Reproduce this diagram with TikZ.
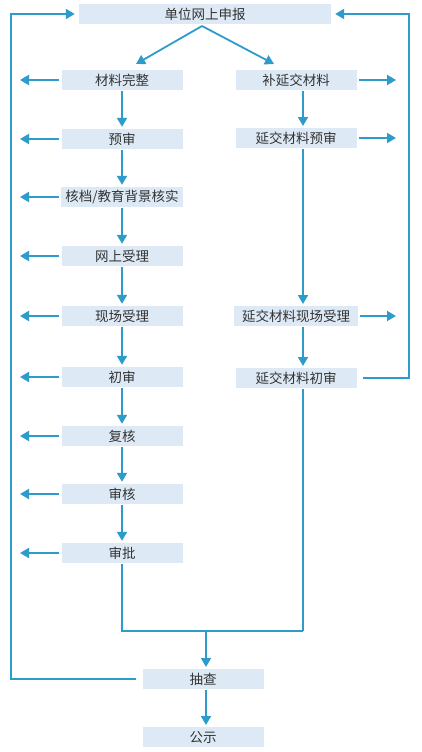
\documentclass[tikz,border=0pt]{standalone}
\usepackage{fontspec}
\setmainfont{Noto Sans CJK SC}
\usetikzlibrary{arrows.meta}
\definecolor{lineblue}{HTML}{2E9CCB}
\definecolor{boxfill}{HTML}{DDEAF6}
\definecolor{txt}{HTML}{333333}
\tikzset{
  box/.style={fill=boxfill, text=txt, minimum height=20pt, inner sep=0pt, font=\fontsize{13.5pt}{15pt}\selectfont, anchor=center},
  lbox/.style={box, minimum width=121pt},
  flow/.style={draw=lineblue, line width=1.8pt, -{Triangle[width=10pt,length=9pt]}},
  plain/.style={draw=lineblue, line width=1.8pt},
}
\begin{document}
\begin{tikzpicture}[x=1pt,y=-1pt]
\useasboundingbox (0,0) rectangle (421,752);
\fill[white] (0,0) rectangle (421,752);
% nodes
\node[box, minimum width=252pt] (top) at (205,14) {单位网上申报};
\node[lbox] (l1) at (122,80) {材料完整};
\node[lbox] (l2) at (122,139) {预审};
\node[lbox, minimum width=122pt] (l3) at (122,197) {核档/教育背景核实};
\node[lbox] (l4) at (122,256) {网上受理};
\node[lbox] (l5) at (122,316) {现场受理};
\node[lbox] (l6) at (122,377) {初审};
\node[lbox] (l7) at (122,436) {复核};
\node[lbox] (l8) at (122,494) {审核};
\node[lbox] (l9) at (122,553) {审批};
\node[lbox] (r1) at (296,80) {补延交材料};
\node[lbox] (r2) at (296,138) {延交材料预审};
\node[lbox, minimum width=124pt] (r3) at (296,316) {延交材料现场受理};
\node[lbox] (r4) at (296,378) {延交材料初审};
\node[lbox] (cc) at (203,679) {抽查};
\node[lbox] (gs) at (203,737) {公示};
% diagonal arrows
\coordinate (tb) at (202,26);
\coordinate (dl) at (136,64);
\coordinate (dr) at (274,64);
\draw[flow] (tb) -- (dl);
\draw[flow] (tb) -- (dr);
% left column down arrows
\foreach \a/\b in {l1/l2,l2/l3,l3/l4,l4/l5,l5/l6,l6/l7,l7/l8,l8/l9}{
  \draw[flow, shorten <=1pt, shorten >=2pt] (\a.south) -- (\b.north);
}
% left side-exit arrows
\foreach \n in {l1,l2,l3,l4,l5,l6,l7,l8,l9}{
  \coordinate (\n e) at (20,0 |- \n.west);
  \draw[flow, shorten <=2pt] (\n.west) -- (\n e);
}
% right column
\coordinate (r1b) at (303,90);
\coordinate (r2t) at (303,128);
\coordinate (r2b) at (303,148);
\coordinate (r3t) at (303,306);
\coordinate (r3b) at (303,326);
\coordinate (r4t) at (303,368);
\draw[flow, shorten <=1pt, shorten >=2pt] (r1b) -- (r2t);
\draw[flow, shorten <=1pt, shorten >=2pt] (r2b) -- (r3t);
\draw[flow, shorten <=1pt, shorten >=2pt] (r3b) -- (r4t);
% right side-exit arrows
\foreach \n in {r1,r2,r3}{
  \coordinate (\n e) at (396,0 |- \n.east);
  \draw[flow, shorten <=2pt] (\n.east) -- (\n e);
}
% right loop
\coordinate (rl1) at (409,378);
\coordinate (rl2) at (409,14);
\draw[flow, shorten <=6pt, shorten >=4pt] (r4.east) -- (rl1) -- (rl2) -- (top.east);
% left loop
\coordinate (ll1) at (11,679);
\coordinate (ll2) at (11,14);
\draw[flow, shorten <=6pt, shorten >=4pt] (cc.west) -- (ll1) -- (ll2) -- (top.west);
% merge
\coordinate (m1) at (122,631);
\coordinate (m2) at (303,631);
\coordinate (r4b) at (303,388);
\coordinate (mc) at (206,631);
\coordinate (cct) at (206,669);
\draw[plain, shorten <=1pt] (l9.south) -- (m1) -- (m2);
\draw[plain, shorten <=1pt] (r4b) -- (m2);
\draw[flow, shorten >=2pt] (mc) -- (cct);
\coordinate (ccb) at (206,689);
\coordinate (gst) at (206,727);
\draw[flow, shorten <=1pt, shorten >=2pt] (ccb) -- (gst);
\end{tikzpicture}
\end{document}
